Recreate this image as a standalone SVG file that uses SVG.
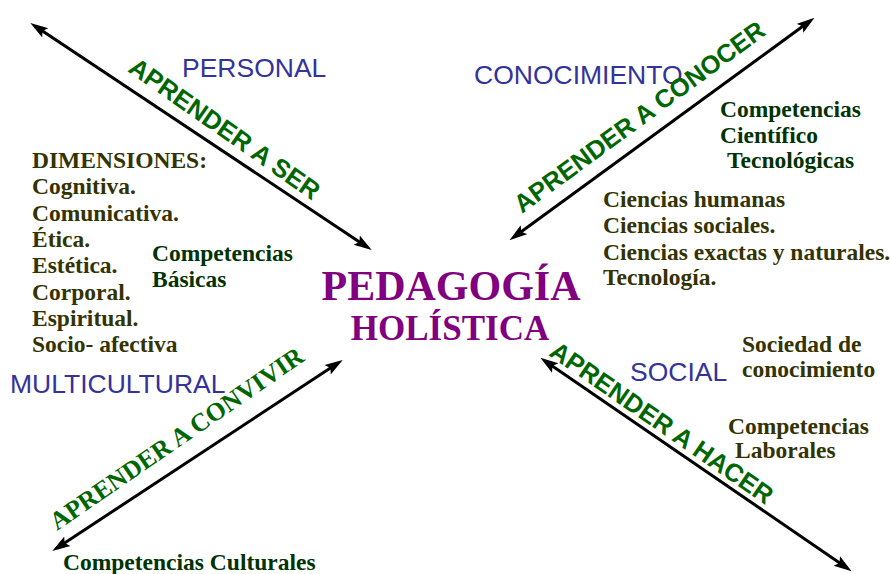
<svg xmlns="http://www.w3.org/2000/svg" width="891" height="574" viewBox="0 0 891 574">
<style>
.serif{font-family:"Liberation Serif","Times New Roman",serif;font-weight:bold;font-size:23.5px}
.olive{fill:#333300}
.dgreen{fill:#003300}
.blue{font-family:"Liberation Sans",Arial,sans-serif;font-size:26.5px;fill:#333399}
.lbl{font-family:"Liberation Sans",Arial,sans-serif;font-weight:bold;font-size:25.5px;fill:#006600}
.lblserif{font-family:"Liberation Serif","Times New Roman",serif;font-weight:bold;font-size:25.5px;fill:#006600}
.title{font-family:"Liberation Serif","Times New Roman",serif;font-weight:bold;fill:#800080;text-anchor:middle}
.arrow{stroke:#000;stroke-width:3;fill:none;marker-start:url(#ah);marker-end:url(#ah)}
</style>
<defs>
<marker id="ah" markerUnits="userSpaceOnUse" markerWidth="18" markerHeight="13" refX="11" refY="5" orient="auto-start-reverse" viewBox="0 0 16 10">
<path d="M0,0 L16,5 L0,10 L3,5 z" fill="#000"/>
</marker>
</defs>
<rect width="891" height="574" fill="#fff"/>
<g id="connectors">
<line class="arrow" x1="35" y1="26" x2="367" y2="247"/>
<line class="arrow" x1="514" y1="237" x2="810" y2="21"/>
<line class="arrow" x1="57" y1="548" x2="338" y2="363"/>
<line class="arrow" x1="545" y1="361" x2="847" y2="568"/>
</g>
<g id="center">
<text class="title" x="451" y="300" font-size="42">PEDAGOGÍA</text>
<text class="title" x="450" y="340" font-size="35">HOLÍSTICA</text>
</g>
<g id="personal">
<text class="blue" x="182" y="77">PERSONAL</text>
<text class="lbl" transform="translate(127,71) rotate(35)">APRENDER A SER</text>
<text class="serif olive" x="32" y="168">DIMENSIONES:</text>
<text class="serif olive" x="32" y="194">Cognitiva.</text>
<text class="serif olive" x="32" y="221">Comunicativa.</text>
<text class="serif olive" x="32" y="247">Ética.</text>
<text class="serif olive" x="32" y="273">Estética.</text>
<text class="serif olive" x="32" y="300">Corporal.</text>
<text class="serif olive" x="32" y="326">Espiritual.</text>
<text class="serif olive" x="32" y="352">Socio- afectiva</text>
<text class="serif dgreen" x="152" y="261">Competencias</text>
<text class="serif dgreen" x="152" y="287">Básicas</text>
</g>
<g id="conocimiento">
<text class="blue" x="474" y="84">CONOCIMIENTO</text>
<text class="lbl" transform="translate(522,214) rotate(-36.3)">APRENDER A CONOCER</text>
<text class="serif dgreen" x="720" y="117">Competencias</text>
<text class="serif dgreen" x="720" y="143">Científico</text>
<text class="serif dgreen" x="727" y="168">Tecnológicas</text>
<text class="serif olive" x="603" y="207">Ciencias humanas</text>
<text class="serif olive" x="603" y="233">Ciencias sociales.</text>
<text class="serif olive" x="603" y="260">Ciencias exactas y naturales.</text>
<text class="serif olive" x="603" y="285">Tecnología.</text>
</g>
<g id="multicultural">
<text class="blue" x="10" y="393">MULTICULTURAL</text>
<text class="lblserif" transform="translate(57,531) rotate(-34.5)">APRENDER A CONVIVIR</text>
<text class="serif dgreen" x="63" y="570">Competencias Culturales</text>
</g>
<g id="social">
<text class="blue" x="630" y="381">SOCIAL</text>
<text class="lbl" transform="translate(548,355) rotate(34.6)">APRENDER A HACER</text>
<text class="serif olive" x="742" y="352">Sociedad de</text>
<text class="serif olive" x="742" y="377">conocimiento</text>
<text class="serif olive" x="728" y="434">Competencias</text>
<text class="serif olive" x="735" y="458">Laborales</text>
</g>
</svg>
